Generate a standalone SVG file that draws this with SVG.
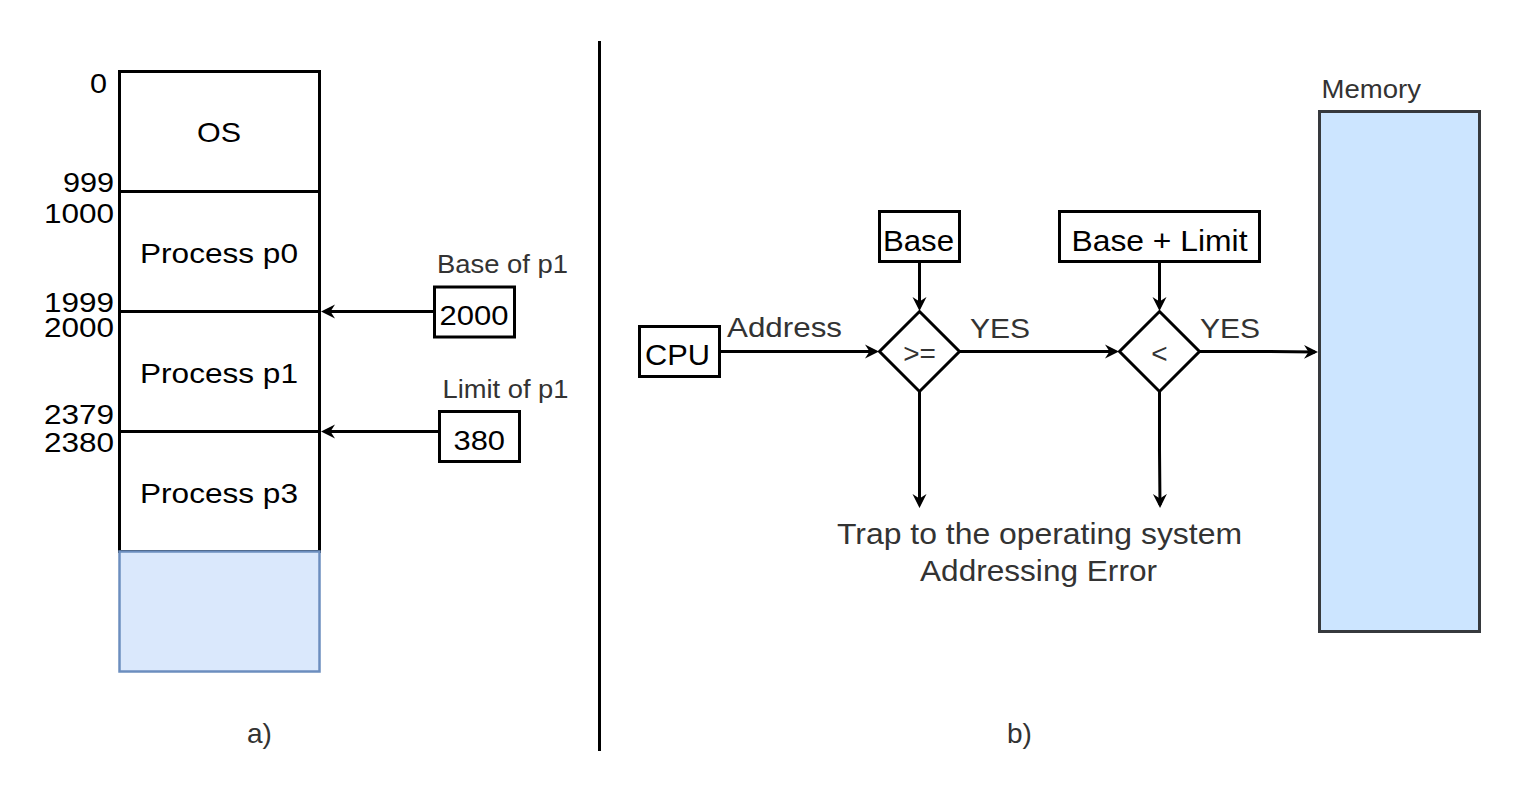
<svg xmlns="http://www.w3.org/2000/svg" width="1523" height="798" viewBox="0 0 1523 798">
<style>
text{font-family:"Liberation Sans",Arial,sans-serif;}
.blk{fill:#000;}
.gry{fill:#333333;}
.box{fill:#ffffff;stroke:#000;stroke-width:3;}
.conn{fill:none;stroke:#000;stroke-width:3;}
</style>
<defs>
<marker id="arr" markerUnits="userSpaceOnUse" markerWidth="16" markerHeight="16" viewBox="0 0 16 16" refX="11" refY="8" orient="auto">
<path d="M14,8 L0,1 L4.5,8 L0,15 Z" fill="#000"/>
</marker>
</defs>
<rect width="1523" height="798" fill="#ffffff"/>

<g id="memory-a">
<rect id="os" class="box" x="119.5" y="71.5" width="200" height="120"/>
<rect id="p0" class="box" x="119.5" y="191.5" width="200" height="120"/>
<rect id="p1" class="box" x="119.5" y="311.5" width="200" height="120"/>
<rect id="p3" class="box" x="119.5" y="431.5" width="200" height="120"/>
<rect id="free" x="119.5" y="551.5" width="200" height="120" fill="#dae8fc" stroke="#6c8ebf" stroke-width="2.5"/>
<text class="blk" x="197" y="142" font-size="28" textLength="44" lengthAdjust="spacingAndGlyphs">OS</text>
<text class="blk" x="140" y="263" font-size="28" textLength="158" lengthAdjust="spacingAndGlyphs">Process p0</text>
<text class="blk" x="140" y="383" font-size="28" textLength="158" lengthAdjust="spacingAndGlyphs">Process p1</text>
<text class="blk" x="140" y="503" font-size="28" textLength="158" lengthAdjust="spacingAndGlyphs">Process p3</text>
</g>

<g id="addr-labels">
<text class="blk" x="90" y="93" font-size="28" textLength="17" lengthAdjust="spacingAndGlyphs">0</text>
<text class="blk" x="63" y="192" font-size="28" textLength="51" lengthAdjust="spacingAndGlyphs">999</text>
<text class="blk" x="44" y="223" font-size="28" textLength="70" lengthAdjust="spacingAndGlyphs">1000</text>
<text class="blk" x="44" y="312" font-size="27" textLength="70" lengthAdjust="spacingAndGlyphs">1999</text>
<text class="blk" x="44" y="337" font-size="27" textLength="70" lengthAdjust="spacingAndGlyphs">2000</text>
<text class="blk" x="44" y="424" font-size="28" textLength="70" lengthAdjust="spacingAndGlyphs">2379</text>
<text class="blk" x="44" y="452" font-size="28" textLength="70" lengthAdjust="spacingAndGlyphs">2380</text>
</g>

<g id="base-reg">
<rect class="box" x="434.5" y="287" width="80" height="50"/>
<text class="blk" x="439.5" y="325" font-size="28" textLength="69" lengthAdjust="spacingAndGlyphs">2000</text>
<text class="gry" x="437" y="273" font-size="25" textLength="131" lengthAdjust="spacingAndGlyphs">Base of p1</text>
</g>
<g id="limit-reg">
<rect class="box" x="439.5" y="411.5" width="80" height="50"/>
<text class="blk" x="453.5" y="449.5" font-size="28" textLength="51.5" lengthAdjust="spacingAndGlyphs">380</text>
<text class="gry" x="442.5" y="397.5" font-size="25" textLength="126" lengthAdjust="spacingAndGlyphs">Limit of p1</text>
</g>

<g id="divider">
<line x1="599.5" y1="41" x2="599.5" y2="751" stroke="#000" stroke-width="3"/>
</g>

<g id="cpu">
<rect class="box" x="639.5" y="326.5" width="80" height="50"/>
<text class="blk" x="645" y="365" font-size="29" textLength="65" lengthAdjust="spacingAndGlyphs">CPU</text>
</g>
<g id="base">
<rect class="box" x="879.5" y="211.5" width="80" height="50"/>
<text class="blk" x="883" y="251" font-size="29" textLength="71" lengthAdjust="spacingAndGlyphs">Base</text>
</g>
<g id="base-limit">
<rect class="box" x="1059.5" y="211.5" width="200" height="50"/>
<text class="blk" x="1071.5" y="251" font-size="29" textLength="176" lengthAdjust="spacingAndGlyphs">Base + Limit</text>
</g>
<g id="cmp-ge">
<path d="M919.5,311.5 L959.5,351.5 L919.5,391.5 L879.5,351.5 Z" fill="#fff" stroke="#000" stroke-width="3"/>
<text class="gry" x="919.5" y="363" font-size="28" text-anchor="middle">&gt;=</text>
</g>
<g id="cmp-lt">
<path d="M1159.5,311.5 L1199.5,351.5 L1159.5,391.5 L1119.5,351.5 Z" fill="#fff" stroke="#000" stroke-width="3"/>
<text class="gry" x="1159.5" y="363" font-size="28" text-anchor="middle">&lt;</text>
</g>
<g id="memory-b">
<rect x="1319.5" y="111.5" width="160" height="520" fill="#cce5ff" stroke="#36393d" stroke-width="3"/>
<text class="gry" x="1321.5" y="98" font-size="26" textLength="99.5" lengthAdjust="spacingAndGlyphs">Memory</text>
</g>
<g id="trap">
<text class="gry" x="837" y="543.5" font-size="29" textLength="405" lengthAdjust="spacingAndGlyphs">Trap to the operating system</text>
<text class="gry" x="920" y="581" font-size="29" textLength="237" lengthAdjust="spacingAndGlyphs">Addressing Error</text>
</g>

<g id="connectors">
<line class="conn" x1="434" y1="311.5" x2="324" y2="311.5" marker-end="url(#arr)"/>
<line class="conn" x1="439" y1="431.5" x2="324" y2="431.5" marker-end="url(#arr)"/>
<line class="conn" x1="721" y1="351.5" x2="876" y2="351.5" marker-end="url(#arr)"/>
<line class="conn" x1="919.5" y1="262" x2="919.5" y2="308" marker-end="url(#arr)"/>
<line class="conn" x1="1159.5" y1="262" x2="1159.5" y2="308" marker-end="url(#arr)"/>
<line class="conn" x1="960" y1="351.5" x2="1116" y2="351.5" marker-end="url(#arr)"/>
<polyline class="conn" points="1200,351.5 1260,351.5 1315,352" marker-end="url(#arr)" stroke-width="2.5"/>
<line class="conn" x1="919.5" y1="392" x2="919.5" y2="505" marker-end="url(#arr)"/>
<polyline class="conn" points="1159.5,392 1159.5,450 1160,505" marker-end="url(#arr)"/>
<text class="gry" x="727" y="337" font-size="28" textLength="115" lengthAdjust="spacingAndGlyphs">Address</text>
<text class="gry" x="970" y="337.5" font-size="28" textLength="60" lengthAdjust="spacingAndGlyphs">YES</text>
<text class="gry" x="1200" y="337.5" font-size="28" textLength="60" lengthAdjust="spacingAndGlyphs">YES</text>
</g>

<g id="captions">
<text class="gry" x="259.5" y="743" font-size="28" text-anchor="middle">a)</text>
<text class="gry" x="1019.5" y="743" font-size="28" text-anchor="middle">b)</text>
</g>
</svg>
